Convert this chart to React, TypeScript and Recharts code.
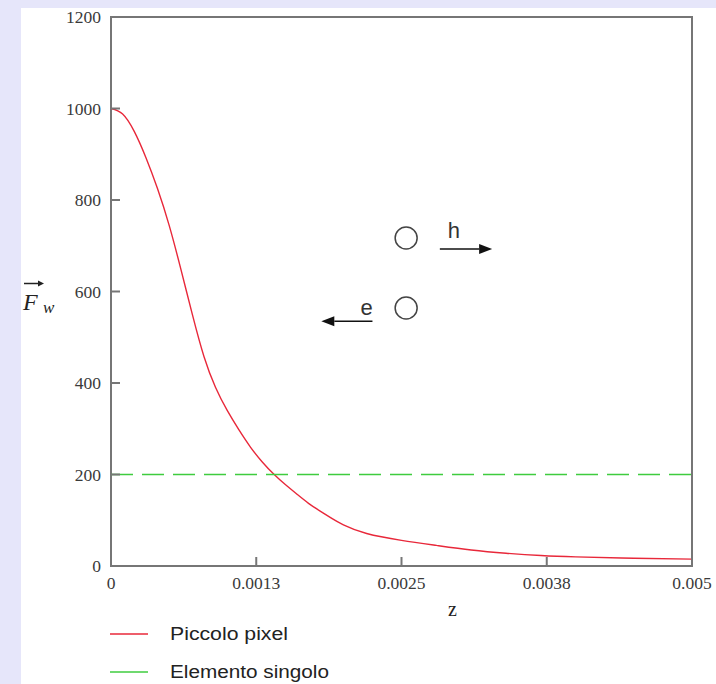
import React from "react";
import {
  LineChart,
  Line,
  XAxis,
  YAxis,
  ReferenceArea,
  ReferenceDot,
  ReferenceLine,
} from "recharts";

// Curva "Piccolo pixel" e retta "Elemento singolo" (stile Mathcad).
const zValues = [
  0, 0.0001, 0.0002, 0.0003, 0.0004, 0.0005, 0.0006, 0.0007, 0.0008, 0.0009,
  0.001, 0.0011, 0.0012, 0.0013, 0.0014, 0.0015, 0.0016, 0.0017, 0.0018,
  0.0019, 0.002, 0.0022, 0.0025, 0.0028, 0.0031, 0.0034, 0.0037, 0.004,
  0.0045, 0.005,
];
const piccoloPixel = [
  1000, 988, 950, 893, 825, 745, 650, 550, 458, 390, 340, 298, 260, 228, 201,
  178, 157, 137, 120, 104, 90, 71, 56, 45, 35, 28, 23, 20, 17, 15,
];
const singoloZ = [0, 0.005];
const elementoSingolo = [200, 200];

const yTicks = [0, 200, 400, 600, 800, 1000, 1200];
const xTicks = [0, 0.00125, 0.0025, 0.00375, 0.005];
const xTickLabels = ["0", "0.0013", "0.0025", "0.0038", "0.005"];

const seriesNames = ["Piccolo pixel", "Elemento singolo"];
const seriesColors = ["#e8283a", "#3fcc3f"];

// circoli e frecce (coordinate nei dati)
const circles = [
  { z: 0.00254, v: 717 },
  { z: 0.00254, v: 564 },
];
const arrows = [
  { from: 0.00283, to: 0.00328, v: 693, letter: "h", lz: 0.00295, lv: 734 },
  { from: 0.00225, to: 0.00181, v: 535, letter: "e", lz: 0.0022, lv: 566 },
];

const mainData = zValues.map((z, i) => ({ z, pixel: piccoloPixel[i] }));
const singoloData = singoloZ.map((z, i) => ({ z, single: elementoSingolo[i] }));

const FRAME = "#767676";
const TICK_FONT = "'Liberation Serif', 'Times New Roman', serif";
const SANS = "'Liberation Sans', Arial, sans-serif";

function LeftTick({ x = 0, y = 0, payload }: any) {
  const ax = x + 10;
  return (
    <g>
      <text
        x={x}
        y={y}
        textAnchor="end"
        dominantBaseline="central"
        fontFamily={TICK_FONT}
        fontSize={17.5}
        fill="#3a3a3a"
      >
        {payload?.value}
      </text>
      <line x1={ax} x2={ax + 9} y1={y} y2={y} stroke={FRAME} strokeWidth={2} />
    </g>
  );
}

function RightTick({ x = 0, y = 0 }: any) {
  return <line x1={x - 9} x2={x} y1={y} y2={y} stroke={FRAME} strokeWidth={2} />;
}

function BottomTick({ x = 0, y = 0, payload, index }: any) {
  const ay = y - 10;
  return (
    <g>
      <line x1={x} x2={x} y1={ay} y2={ay - 9} stroke={FRAME} strokeWidth={2} />
      <text
        x={x}
        y={y}
        textAnchor="middle"
        dominantBaseline="hanging"
        fontFamily={TICK_FONT}
        fontSize={17.5}
        fill="#3a3a3a"
      >
        {xTickLabels[index] ?? payload?.value}
      </text>
    </g>
  );
}

function YLabel({ viewBox }: any) {
  const x = (viewBox?.x ?? 0) + 2;
  const y = (viewBox?.y ?? 0) + (viewBox?.height ?? 0) / 2 + 18;
  return (
    <g>
      <line x1={x + 1} x2={x + 17} y1={y - 26} y2={y - 26} stroke="#222" strokeWidth={1.5} />
      <polygon points={`${x + 21},${y - 26} ${x + 15},${y - 29} ${x + 15},${y - 23}`} fill="#222" />
      <text x={x} y={y} fontFamily={TICK_FONT} fontStyle="italic" fontSize={24} fill="#222">
        F
      </text>
      <text x={x + 20} y={y + 3} fontFamily={TICK_FONT} fontStyle="italic" fontSize={17} fill="#222">
        w
      </text>
    </g>
  );
}

function XLabel({ viewBox }: any) {
  const x = (viewBox?.x ?? 0) + (viewBox?.width ?? 0) / 2 + 51;
  const y = (viewBox?.y ?? 0) + 50;
  return (
    <text x={x} y={y} textAnchor="middle" fontFamily={TICK_FONT} fontSize={20} fill="#222">
      z
    </text>
  );
}

function Arrow({ x1, y1, x2, y2 }: any) {
  const dir = x2 > x1 ? 1 : -1;
  const base = x2 - dir * 13;
  return (
    <g>
      <line x1={x1} y1={y1} x2={base} y2={y2} stroke="#111" strokeWidth={1.6} />
      <polygon points={`${x2},${y2} ${base},${y2 - 5} ${base},${y2 + 5}`} fill="#111" />
    </g>
  );
}

function Letter(letter: string) {
  return ({ cx, cy }: any) => (
    <text
      x={cx}
      y={cy}
      textAnchor="middle"
      dominantBaseline="central"
      fontFamily={SANS}
      fontSize={22}
      fill="#333"
    >
      {letter}
    </text>
  );
}

function LegendBox() {
  return (
    <svg width={280} height={70} style={{ position: "absolute", left: 85, top: 607 }}>
      {seriesNames.map((name, i) => {
        const y = 19 + i * 38;
        return (
          <g key={name}>
            <line x1={4} x2={42} y1={y} y2={y} stroke={seriesColors[i]} strokeWidth={1.5} />
            <text
              x={64}
              y={y}
              dominantBaseline="central"
              fontFamily={SANS}
              fontSize={18}
              fill="#222"
              textLength={i === 0 ? 118 : 159}
              lengthAdjust="spacingAndGlyphs"
            >
              {name}
            </text>
          </g>
        );
      })}
    </svg>
  );
}

export default function App() {
  return (
    <div
      style={{
        position: "absolute",
        left: 0,
        top: 0,
        width: 716,
        height: 684,
        background: "#e6e6fa",
      }}
    >
      <div
        style={{
          position: "absolute",
          left: 21,
          top: 8,
          width: 695,
          height: 676,
          background: "#ffffff",
        }}
      >
        <LineChart
          width={695}
          height={676}
          data={mainData}
          margin={{ top: 9, right: 0, bottom: 78, left: 0 }}
        >
          <XAxis
            dataKey="z"
            type="number"
            domain={[0, 0.005]}
            ticks={xTicks}
            allowDataOverflow
            axisLine={false}
            tickLine={false}
            tickSize={0}
            tickMargin={10}
            height={40}
            tick={<BottomTick />}
            label={<XLabel />}
          />
          <YAxis
            type="number"
            domain={[0, 1200]}
            ticks={yTicks}
            axisLine={false}
            tickLine={false}
            tickSize={0}
            tickMargin={10}
            width={90}
            tick={<LeftTick />}
            label={<YLabel />}
          />
          <YAxis
            yAxisId="right"
            orientation="right"
            type="number"
            domain={[0, 1200]}
            ticks={yTicks}
            axisLine={false}
            tickLine={false}
            tickSize={0}
            tickMargin={0}
            width={24}
            tick={<RightTick />}
          />
          <Line
            dataKey="pixel"
            name={seriesNames[0]}
            stroke={seriesColors[0]}
            strokeWidth={1.4}
            dot={false}
            type="natural"
            isAnimationActive={false}
          />
          <Line
            data={singoloData}
            dataKey="single"
            name={seriesNames[1]}
            stroke={seriesColors[1]}
            strokeWidth={1.4}
            strokeDasharray="22 9"
            dot={false}
            type="linear"
            isAnimationActive={false}
          />
          <ReferenceArea
            x1={0}
            x2={0.005}
            y1={0}
            y2={1200}
            fill="none"
            stroke={FRAME}
            strokeWidth={2}
            ifOverflow="visible"
          />
          {circles.map((c, i) => (
            <ReferenceDot
              key={"c" + i}
              x={c.z}
              y={c.v}
              r={11}
              fill="#fff"
              stroke="#444"
              strokeWidth={1.5}
            />
          ))}
          {arrows.map((a) => (
            <ReferenceLine
              key={"a" + a.letter}
              segment={[
                { x: a.from, y: a.v },
                { x: a.to, y: a.v },
              ]}
              shape={(p: any) => <Arrow {...p} />}
            />
          ))}
          {arrows.map((a) => (
            <ReferenceDot key={"l" + a.letter} x={a.lz} y={a.lv} r={0} shape={Letter(a.letter)} />
          ))}
        </LineChart>
        <LegendBox />
      </div>
    </div>
  );
}
